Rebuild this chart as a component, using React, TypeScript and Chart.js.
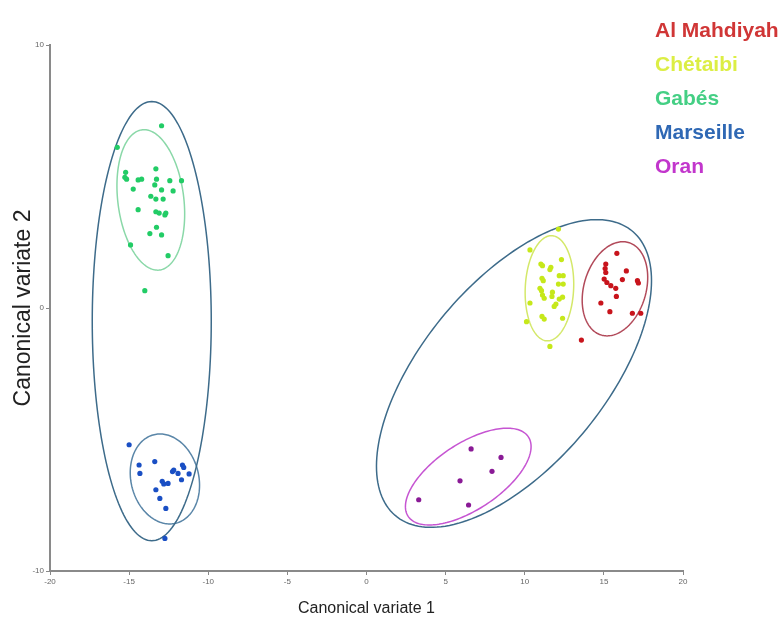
import React, { useEffect, useRef } from "react";
import { Chart, registerables } from "chart.js";

Chart.register(...registerables);

// Sampling sites, legend colours and point colours
const sites = ["Al Mahdiyah", "Chétaibi", "Gabés", "Marseille", "Oran"];
const labelColors = ["#d03636", "#dcee44", "#44cf84", "#2f68b4", "#c236cc"];
const pointColors = ["#c8141c", "#c6e81a", "#22cc66", "#1a4fc4", "#8a1a96"];

// Canonical variate scores (CV1, CV2) per individual
const alMahdiyahX = [15.82, 15.12, 15.08, 15.12, 16.42, 15.02, 15.19, 16.17, 17.12, 17.18, 15.44, 15.75, 15.79, 14.81, 15.38, 16.8, 17.33, 13.58];
const alMahdiyahY = [2.08, 1.67, 1.5, 1.35, 1.41, 1.1, 0.97, 1.08, 1.04, 0.95, 0.85, 0.75, 0.44, 0.19, -0.14, -0.2, -0.2, -1.22];

const chetaibiX = [12.13, 10.33, 11.02, 11.12, 11.65, 11.59, 12.32, 11.09, 11.17, 12.18, 12.43, 10.96, 11.06, 11.12, 11.23, 12.13, 12.43, 11.75, 11.72, 12.18, 12.39, 11.97, 11.86, 10.33, 11.09, 11.23, 12.39, 10.11, 11.59];
const chetaibiY = [3.0, 2.21, 1.67, 1.61, 1.55, 1.46, 1.84, 1.13, 1.04, 1.23, 1.23, 0.75, 0.66, 0.49, 0.37, 0.91, 0.91, 0.6, 0.44, 0.34, 0.41, 0.15, 0.06, 0.19, -0.32, -0.42, -0.39, -0.52, -1.46];

const gabesX = [-12.95, -15.75, -15.22, -15.27, -15.16, -14.43, -14.21, -13.31, -13.27, -13.38, -12.43, -11.69, -14.74, -12.95, -12.22, -13.63, -13.31, -12.85, -14.43, -13.31, -13.1, -12.74, -12.68, -13.27, -13.69, -12.95, -14.91, -12.54, -14.01];
const gabesY = [6.93, 6.11, 5.16, 4.97, 4.9, 4.87, 4.9, 5.29, 4.9, 4.68, 4.84, 4.84, 4.52, 4.49, 4.45, 4.25, 4.14, 4.14, 3.74, 3.66, 3.61, 3.54, 3.61, 3.07, 2.83, 2.78, 2.4, 1.99, 0.66];

const marseilleX = [-15.0, -14.37, -14.32, -13.38, -12.26, -12.18, -11.63, -11.55, -11.91, -11.21, -11.69, -12.91, -12.81, -12.54, -13.31, -13.06, -12.68, -12.74];
const marseilleY = [-5.2, -5.97, -6.29, -5.84, -6.22, -6.16, -5.97, -6.06, -6.29, -6.31, -6.53, -6.59, -6.69, -6.67, -6.91, -7.24, -7.62, -8.76];

const oranX = [6.61, 8.5, 7.93, 5.91, 3.3, 6.45];
const oranY = [-5.36, -5.68, -6.21, -6.57, -7.29, -7.49];

const siteX = [alMahdiyahX, chetaibiX, gabesX, marseilleX, oranX];
const siteY = [alMahdiyahY, chetaibiY, gabesY, marseilleY, oranY];

// Confidence ellipses: centre, half-extent on each axis, correlation
const ellipseNames = ["Al Mahdiyah", "Chétaibi", "Gabés", "Marseille", "Oran", "Gabés + Marseille", "Al Mahdiyah + Chétaibi + Oran"];
const ellipseCx = [15.7, 11.56, -13.63, -12.74, 6.43, -13.57, 9.32];
const ellipseCy = [0.73, 0.75, 4.11, -6.5, -6.41, -0.5, -2.49];
const ellipseSx = [2.07, 1.535, 2.14, 2.19, 3.97, 3.76, 8.69];
const ellipseSy = [1.79, 2.0, 2.67, 1.71, 1.84, 8.35, 5.85];
const ellipseR = [0.24, 0.08, -0.2, -0.14, 0.62, 0.0, 0.603];
const ellipseColors = ["#b24a5a", "#d4e86a", "#8ad8a8", "#5a86a8", "#c655d2", "#3d6b8a", "#3d6b8a"];

const xTicks = [-20, -15, -10, -5, 0, 5, 10, 15, 20];
const yTicks = [-10, 0, 10];

const ellipsePlugin = {
  id: "confidenceEllipses",
  beforeDatasetsDraw(chart: any) {
    const { ctx } = chart;
    const xs = chart.scales.x;
    const ys = chart.scales.y;
    const steps = 180;
    ctx.save();
    ctx.lineWidth = 1.5;
    ellipseCx.forEach((cx, i) => {
      const sx = ellipseSx[i];
      const sy = ellipseSy[i];
      const r = ellipseR[i];
      const q = Math.sqrt(1 - r * r);
      ctx.beginPath();
      for (let k = 0; k <= steps; k++) {
        const t = (k / steps) * Math.PI * 2;
        const vx = cx + sx * Math.cos(t);
        const vy = ellipseCy[i] + sy * (r * Math.cos(t) + q * Math.sin(t));
        const px = xs.getPixelForValue(vx);
        const py = ys.getPixelForValue(vy);
        if (k === 0) ctx.moveTo(px, py);
        else ctx.lineTo(px, py);
      }
      ctx.closePath();
      ctx.strokeStyle = ellipseColors[i];
      ctx.stroke();
    });
    ctx.restore();
  },
};

const siteLegendPlugin = {
  id: "siteLegend",
  afterDraw(chart: any) {
    const { ctx } = chart;
    ctx.save();
    ctx.font = "bold 21px 'Liberation Sans', Arial, sans-serif";
    ctx.textAlign = "left";
    ctx.textBaseline = "alphabetic";
    chart.data.datasets.forEach((ds: any, i: number) => {
      ctx.fillStyle = labelColors[i];
      ctx.fillText(ds.label, 655, 37 + i * 34);
    });
    ctx.restore();
  },
};

export default function App() {
  const canvasRef = useRef<HTMLCanvasElement | null>(null);

  useEffect(() => {
    if (!canvasRef.current) return;
    const datasets = sites.map((name, i) => ({
      label: name,
      data: siteX[i].map((x, j) => ({ x, y: siteY[i][j] })),
      backgroundColor: pointColors[i],
      borderWidth: 0,
      pointRadius: 2.6,
      pointHoverRadius: 2.6,
    }));

    const tickFont = { size: 8, family: "'Liberation Sans', Arial, sans-serif" };

    const chart = new Chart(canvasRef.current, {
      type: "scatter",
      data: { datasets },
      options: {
        responsive: false,
        animation: false,
        layout: { padding: { top: 45, right: 99, left: 0, bottom: 0 } },
        plugins: {
          legend: { display: false },
          tooltip: { enabled: false },
        },
        scales: {
          x: {
            type: "linear",
            min: -20,
            max: 20,
            afterBuildTicks: (s: any) => {
              s.ticks = xTicks.map((v) => ({ value: v }));
            },
            afterFit: (s: any) => {
              s.height = 59;
            },
            ticks: { font: tickFont, color: "#666", padding: 2, maxRotation: 0 },
            grid: { drawOnChartArea: false, drawTicks: true, tickLength: 4, color: "#888" },
            border: { display: true, color: "#8a8a8a", width: 2 },
            title: {
              display: true,
              text: "Canonical variate 1",
              color: "#222",
              font: { size: 16, family: "'Liberation Sans', Arial, sans-serif" },
              padding: { top: 0, bottom: 12 },
            },
          },
          y: {
            type: "linear",
            min: -10,
            max: 10,
            afterBuildTicks: (s: any) => {
              s.ticks = yTicks.map((v) => ({ value: v }));
            },
            afterFit: (s: any) => {
              s.width = 50;
            },
            ticks: { font: tickFont, color: "#666", padding: 2 },
            grid: { drawOnChartArea: false, drawTicks: true, tickLength: 4, color: "#888" },
            border: { display: true, color: "#8a8a8a", width: 2 },
            title: {
              display: true,
              text: "Canonical variate 2",
              color: "#222",
              font: { size: 23, family: "'Liberation Sans', Arial, sans-serif" },
              padding: { top: 10, bottom: 0 },
            },
          },
        },
      },
      plugins: [ellipsePlugin, siteLegendPlugin],
    });

    return () => chart.destroy();
  }, []);

  return (
    <div style={{ position: "fixed", left: 0, top: 0, width: 782, height: 630, background: "#fff" }}>
      <canvas ref={canvasRef} width={782} height={630} style={{ display: "block" }} />
    </div>
  );
}
